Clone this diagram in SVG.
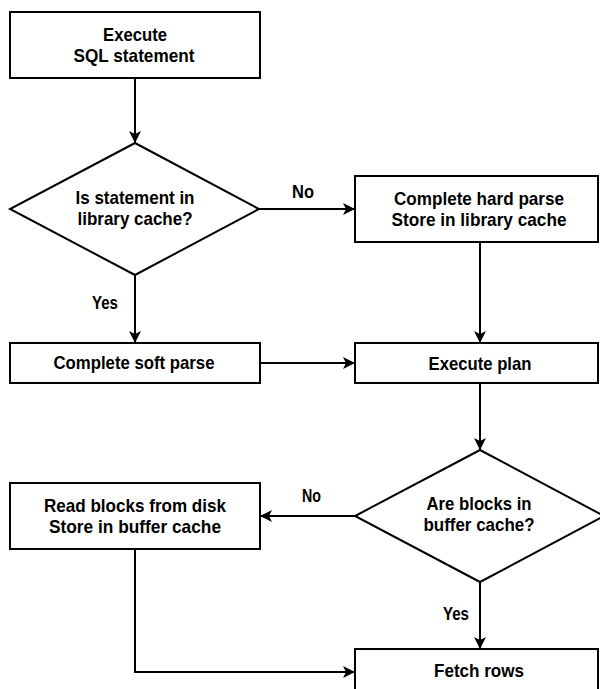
<svg xmlns="http://www.w3.org/2000/svg" width="600" height="689" viewBox="0 0 600 689">
  <style>
    .shape { fill: #ffffff; stroke: #000000; stroke-width: 2; }
    .wire { fill: none; stroke: #000000; stroke-width: 2; }
    text { font-family: "Liberation Sans", Arial, sans-serif; font-size: 18.5px; font-weight: bold; fill: #000000; text-anchor: middle; }
    .lbl { text-anchor: start; }
  </style>
  <defs>
    <marker id="arrow" viewBox="0 0 12 12" refX="11" refY="6" markerWidth="12" markerHeight="12" markerUnits="userSpaceOnUse" orient="auto">
      <path d="M0,0 L12,6 L0,12 L3,6 z" fill="#000000"/>
    </marker>
  </defs>
  <rect width="600" height="689" fill="#ffffff"/>

  <g id="connectors">
    <line class="wire" x1="135" y1="78" x2="135" y2="142" marker-end="url(#arrow)"/>
    <line class="wire" x1="259" y1="209" x2="354" y2="209" marker-end="url(#arrow)"/>
    <line class="wire" x1="135" y1="275" x2="135" y2="342" marker-end="url(#arrow)"/>
    <line class="wire" x1="480" y1="242" x2="480" y2="342" marker-end="url(#arrow)"/>
    <line class="wire" x1="260" y1="363" x2="354" y2="363" marker-end="url(#arrow)"/>
    <line class="wire" x1="480" y1="383" x2="480" y2="449" marker-end="url(#arrow)"/>
    <line class="wire" x1="355" y1="516" x2="261" y2="516" marker-end="url(#arrow)"/>
    <line class="wire" x1="480" y1="582" x2="480" y2="648" marker-end="url(#arrow)"/>
    <polyline class="wire" points="135,549 135,672 354,672" marker-end="url(#arrow)"/>
    <text class="lbl" x="292" y="198" textLength="22" lengthAdjust="spacingAndGlyphs">No</text>
    <text class="lbl" x="92" y="309" textLength="26" lengthAdjust="spacingAndGlyphs">Yes</text>
    <text class="lbl" x="302" y="502" textLength="19" lengthAdjust="spacingAndGlyphs">No</text>
    <text class="lbl" x="443" y="620" textLength="26" lengthAdjust="spacingAndGlyphs">Yes</text>
  </g>

  <g id="execute-sql">
    <rect class="shape" x="10" y="12" width="250" height="66"/>
    <text x="135" y="41" textLength="64" lengthAdjust="spacingAndGlyphs">Execute</text>
    <text x="134" y="62" textLength="121" lengthAdjust="spacingAndGlyphs">SQL statement</text>
  </g>

  <g id="in-library-cache">
    <polygon class="shape" points="135,143 259,209 135,275 10,209"/>
    <text x="135" y="204" textLength="119" lengthAdjust="spacingAndGlyphs">Is statement in</text>
    <text x="135" y="225" textLength="115" lengthAdjust="spacingAndGlyphs">library cache?</text>
  </g>

  <g id="hard-parse">
    <rect class="shape" x="355" y="176" width="243" height="66"/>
    <text x="479" y="205" textLength="170" lengthAdjust="spacingAndGlyphs">Complete hard parse</text>
    <text x="479" y="226" textLength="175" lengthAdjust="spacingAndGlyphs">Store in library cache</text>
  </g>

  <g id="soft-parse">
    <rect class="shape" x="10" y="343" width="250" height="40"/>
    <text x="134" y="369" textLength="161" lengthAdjust="spacingAndGlyphs">Complete soft parse</text>
  </g>

  <g id="execute-plan">
    <rect class="shape" x="355" y="343" width="243" height="40"/>
    <text x="480" y="370" textLength="103" lengthAdjust="spacingAndGlyphs">Execute plan</text>
  </g>

  <g id="in-buffer-cache">
    <polygon class="shape" points="480,450 604,516 480,582 355,516"/>
    <text x="479" y="510" textLength="105" lengthAdjust="spacingAndGlyphs">Are blocks in</text>
    <text x="479" y="531" textLength="111" lengthAdjust="spacingAndGlyphs">buffer cache?</text>
  </g>

  <g id="read-blocks">
    <rect class="shape" x="10" y="483" width="250" height="66"/>
    <text x="135" y="512" textLength="182" lengthAdjust="spacingAndGlyphs">Read blocks from disk</text>
    <text x="135" y="533" textLength="172" lengthAdjust="spacingAndGlyphs">Store in buffer cache</text>
  </g>

  <g id="fetch-rows">
    <rect class="shape" x="355" y="649" width="243" height="50"/>
    <text x="479" y="677" textLength="90" lengthAdjust="spacingAndGlyphs">Fetch rows</text>
  </g>
</svg>
